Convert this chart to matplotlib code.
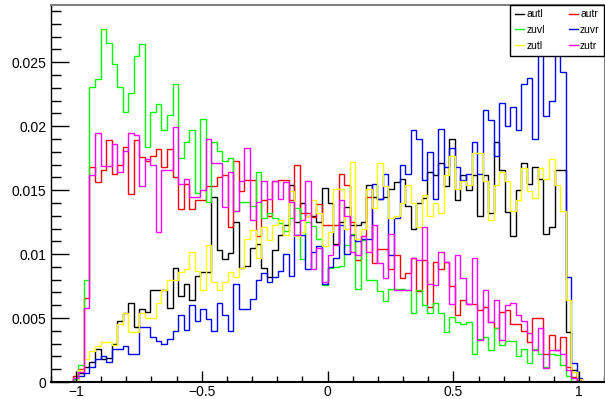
import numpy as np
import matplotlib
matplotlib.use('Agg')
import matplotlib.pyplot as plt
from matplotlib.ticker import MultipleLocator, FuncFormatter

plt.rcParams['font.family'] = ['Liberation Sans', 'DejaVu Sans']

# 100 bins from -1.1 to 1.1, values below start at bin 4 (x = -1.012)
edges = np.linspace(-1.1, 1.1, 101)
first_bin = 4

autl = [0.0002, 0.0007, 0.0012, 0.0016, 0.0026, 0.0018, 0.0019, 0.0030, 0.0048, 0.0054,
        0.0062, 0.0043, 0.0057, 0.0055, 0.0072, 0.0072, 0.0072, 0.0058, 0.0089, 0.0067,
        0.0077, 0.0064, 0.0083, 0.0086, 0.0086, 0.0145, 0.0103, 0.0096, 0.0101, 0.0125,
        0.0089, 0.0091, 0.0105, 0.0108, 0.0089, 0.0082, 0.0103, 0.0115, 0.0123, 0.0154,
        0.0125, 0.0140, 0.0130, 0.0130, 0.0125, 0.0152, 0.0140, 0.0108, 0.0125, 0.0137,
        0.0123, 0.0123, 0.0125, 0.0154, 0.0145, 0.0143, 0.0145, 0.0151, 0.0156, 0.0159,
        0.0138, 0.0120, 0.0140, 0.0144, 0.0164, 0.0162, 0.0171, 0.0153, 0.0190, 0.0142,
        0.0162, 0.0150, 0.0162, 0.0130, 0.0162, 0.0132, 0.0188, 0.0166, 0.0133, 0.0114,
        0.0150, 0.0171, 0.0155, 0.0168, 0.0159, 0.0116, 0.0121, 0.0166, 0.0166, 0.0039,
        0.0009, 0.0001]

autr = [0.0005, 0.0010, 0.0066, 0.0168, 0.0156, 0.0166, 0.0189, 0.0163, 0.0170, 0.0184,
        0.0147, 0.0189, 0.0176, 0.0173, 0.0177, 0.0182, 0.0168, 0.0182, 0.0160, 0.0135,
        0.0155, 0.0135, 0.0142, 0.0142, 0.0153, 0.0153, 0.0160, 0.0162, 0.0121, 0.0173,
        0.0149, 0.0158, 0.0158, 0.0114, 0.0142, 0.0130, 0.0157, 0.0158, 0.0158, 0.0142,
        0.0170, 0.0132, 0.0132, 0.0129, 0.0139, 0.0123, 0.0123, 0.0123, 0.0163, 0.0154,
        0.0125, 0.0095, 0.0114, 0.0145, 0.0093, 0.0104, 0.0104, 0.0088, 0.0099, 0.0081,
        0.0085, 0.0097, 0.0071, 0.0095, 0.0059, 0.0094, 0.0088, 0.0094, 0.0075, 0.0052,
        0.0064, 0.0061, 0.0061, 0.0056, 0.0059, 0.0047, 0.0042, 0.0055, 0.0056, 0.0045,
        0.0045, 0.0040, 0.0031, 0.0050, 0.0050, 0.0022, 0.0037, 0.0025, 0.0035, 0.0012,
        0.0004, 0.0001]

zuvl = [0.0002, 0.0013, 0.0080, 0.0231, 0.0237, 0.0276, 0.0265, 0.0249, 0.0231, 0.0211,
        0.0226, 0.0255, 0.0264, 0.0184, 0.0211, 0.0217, 0.0197, 0.0209, 0.0233, 0.0175,
        0.0188, 0.0197, 0.0148, 0.0206, 0.0141, 0.0188, 0.0181, 0.0173, 0.0175, 0.0134,
        0.0141, 0.0141, 0.0138, 0.0164, 0.0128, 0.0132, 0.0128, 0.0124, 0.0118, 0.0128,
        0.0136, 0.0096, 0.0125, 0.0122, 0.0112, 0.0076, 0.0089, 0.0090, 0.0091, 0.0107,
        0.0116, 0.0073, 0.0111, 0.0080, 0.0080, 0.0071, 0.0063, 0.0073, 0.0073, 0.0073,
        0.0072, 0.0054, 0.0072, 0.0060, 0.0054, 0.0062, 0.0054, 0.0039, 0.0051, 0.0047,
        0.0045, 0.0047, 0.0022, 0.0034, 0.0035, 0.0025, 0.0042, 0.0029, 0.0032, 0.0032,
        0.0020, 0.0026, 0.0015, 0.0026, 0.0022, 0.0012, 0.0022, 0.0021, 0.0013, 0.0005,
        0.0001, 0.0]

zuvr = [0.0, 0.0005, 0.0007, 0.0012, 0.0018, 0.0020, 0.0016, 0.0026, 0.0026, 0.0028,
        0.0022, 0.0022, 0.0043, 0.0043, 0.0035, 0.0032, 0.0030, 0.0034, 0.0040, 0.0052,
        0.0041, 0.0060, 0.0048, 0.0057, 0.0049, 0.0040, 0.0062, 0.0052, 0.0040, 0.0077,
        0.0057, 0.0057, 0.0065, 0.0080, 0.0085, 0.0078, 0.0082, 0.0087, 0.0100, 0.0083,
        0.0115, 0.0115, 0.0088, 0.0102, 0.0106, 0.0077, 0.0090, 0.0097, 0.0123, 0.0100,
        0.0115, 0.0110, 0.0112, 0.0112, 0.0155, 0.0143, 0.0163, 0.0099, 0.0128, 0.0170,
        0.0163, 0.0197, 0.0190, 0.0158, 0.0180, 0.0143, 0.0198, 0.0168, 0.0183, 0.0168,
        0.0158, 0.0163, 0.0188, 0.0163, 0.0213, 0.0205, 0.0177, 0.0218, 0.0200, 0.0215,
        0.0197, 0.0233, 0.0238, 0.0190, 0.0280, 0.0208, 0.0220, 0.0270, 0.0242, 0.0082,
        0.0015, 0.0003]

zutl = [0.0, 0.0009, 0.0018, 0.0024, 0.0028, 0.0031, 0.0031, 0.0029, 0.0045, 0.0054,
        0.0039, 0.0039, 0.0054, 0.0050, 0.0050, 0.0062, 0.0072, 0.0080, 0.0080, 0.0086,
        0.0088, 0.0102, 0.0087, 0.0072, 0.0107, 0.0078, 0.0072, 0.0078, 0.0086, 0.0082,
        0.0089, 0.0112, 0.0119, 0.0097, 0.0121, 0.0111, 0.0123, 0.0127, 0.0115, 0.0149,
        0.0114, 0.0117, 0.0130, 0.0142, 0.0132, 0.0106, 0.0117, 0.0151, 0.0151, 0.0120,
        0.0172, 0.0112, 0.0120, 0.0151, 0.0136, 0.0171, 0.0153, 0.0128, 0.0130, 0.0140,
        0.0154, 0.0140, 0.0121, 0.0146, 0.0130, 0.0140, 0.0132, 0.0162, 0.0177, 0.0151,
        0.0157, 0.0154, 0.0179, 0.0179, 0.0157, 0.0127, 0.0154, 0.0164, 0.0157, 0.0134,
        0.0142, 0.0167, 0.0149, 0.0144, 0.0167, 0.0159, 0.0174, 0.0154, 0.0134, 0.0064,
        0.0008, 0.0002]

zutr = [0.0003, 0.0008, 0.0058, 0.0162, 0.0195, 0.0169, 0.0169, 0.0186, 0.0164, 0.0181,
        0.0195, 0.0193, 0.0153, 0.0174, 0.0170, 0.0117, 0.0166, 0.0166, 0.0199, 0.0155,
        0.0159, 0.0145, 0.0145, 0.0150, 0.0190, 0.0171, 0.0171, 0.0137, 0.0164, 0.0134,
        0.0157, 0.0183, 0.0127, 0.0141, 0.0157, 0.0143, 0.0157, 0.0143, 0.0156, 0.0141,
        0.0115, 0.0127, 0.0157, 0.0088, 0.0105, 0.0078, 0.0099, 0.0107, 0.0142, 0.0130,
        0.0102, 0.0099, 0.0114, 0.0102, 0.0123, 0.0093, 0.0081, 0.0116, 0.0072, 0.0072,
        0.0072, 0.0097, 0.0095, 0.0121, 0.0077, 0.0076, 0.0102, 0.0094, 0.0061, 0.0099,
        0.0081, 0.0061, 0.0097, 0.0033, 0.0072, 0.0047, 0.0064, 0.0033, 0.0060, 0.0062,
        0.0052, 0.0048, 0.0038, 0.0025, 0.0042, 0.0011, 0.0025, 0.0025, 0.0022, 0.0009,
        0.0003, 0.0]

names = ['autl', 'autr', 'zuvl', 'zuvr', 'zutl', 'zutr']
colors = ['black', '#ff0000', '#00ff00', '#0000ff', '#ffff00', '#ff00ff']


def full(vals):
    h = np.zeros(len(edges) - 1)
    h[first_bin:first_bin + len(vals)] = vals
    return h


W, H = 605, 399
fig = plt.figure(figsize=(W / 100, H / 100), dpi=100)
ax = fig.add_axes([50.7 / W, 17 / H, (604.4 - 50.7) / W, (382 - 4.7) / H])

handles = {}
for name, vals, col in zip(names, [autl, autr, zuvl, zuvr, zutl, zutr], colors):
    handles[name] = ax.stairs(full(vals), edges, color=col, lw=1.0, label=name)

ax.set_xlim(-1.1, 1.1)
ax.set_ylim(0, 0.0295)

ax.xaxis.set_major_locator(MultipleLocator(0.5))
ax.xaxis.set_minor_locator(MultipleLocator(0.1))
ax.yaxis.set_major_locator(MultipleLocator(0.005))
ax.yaxis.set_minor_locator(MultipleLocator(0.001))
ax.yaxis.set_major_formatter(FuncFormatter(lambda v, p: '%g' % round(v, 4)))
ax.xaxis.set_major_formatter(FuncFormatter(lambda v, p: ('%g' % round(v, 2)).replace('-', '\u2212')))

ax.tick_params(which='both', direction='in', top=False, right=False, labelsize=10, width=1)
ax.tick_params(axis='x', which='major', length=8, pad=2.5)
ax.tick_params(axis='x', which='minor', length=4.5)
ax.tick_params(axis='y', which='major', length=13, pad=3)
ax.tick_params(axis='y', which='minor', length=7)

ax.spines['left'].set_linewidth(1.0)
ax.spines['bottom'].set_linewidth(1.5)
ax.spines['top'].set_color('#808080')
ax.spines['top'].set_linewidth(1.5)
ax.spines['right'].set_color('#808080')

order = ['autl', 'zuvl', 'zutl', 'autr', 'zuvr', 'zutr']
leg = ax.legend([handles[n] for n in order], order, ncol=2, loc='upper right',
                bbox_to_anchor=(1.0, 1.0), borderaxespad=0, fontsize=7.5,
                fancybox=False, framealpha=1, edgecolor='black',
                handlelength=0.9, handletextpad=0.2, columnspacing=2.3,
                labelspacing=0.55, borderpad=0.45)
leg.get_frame().set_linewidth(1.0)

fig.savefig('out.png', dpi=100)
